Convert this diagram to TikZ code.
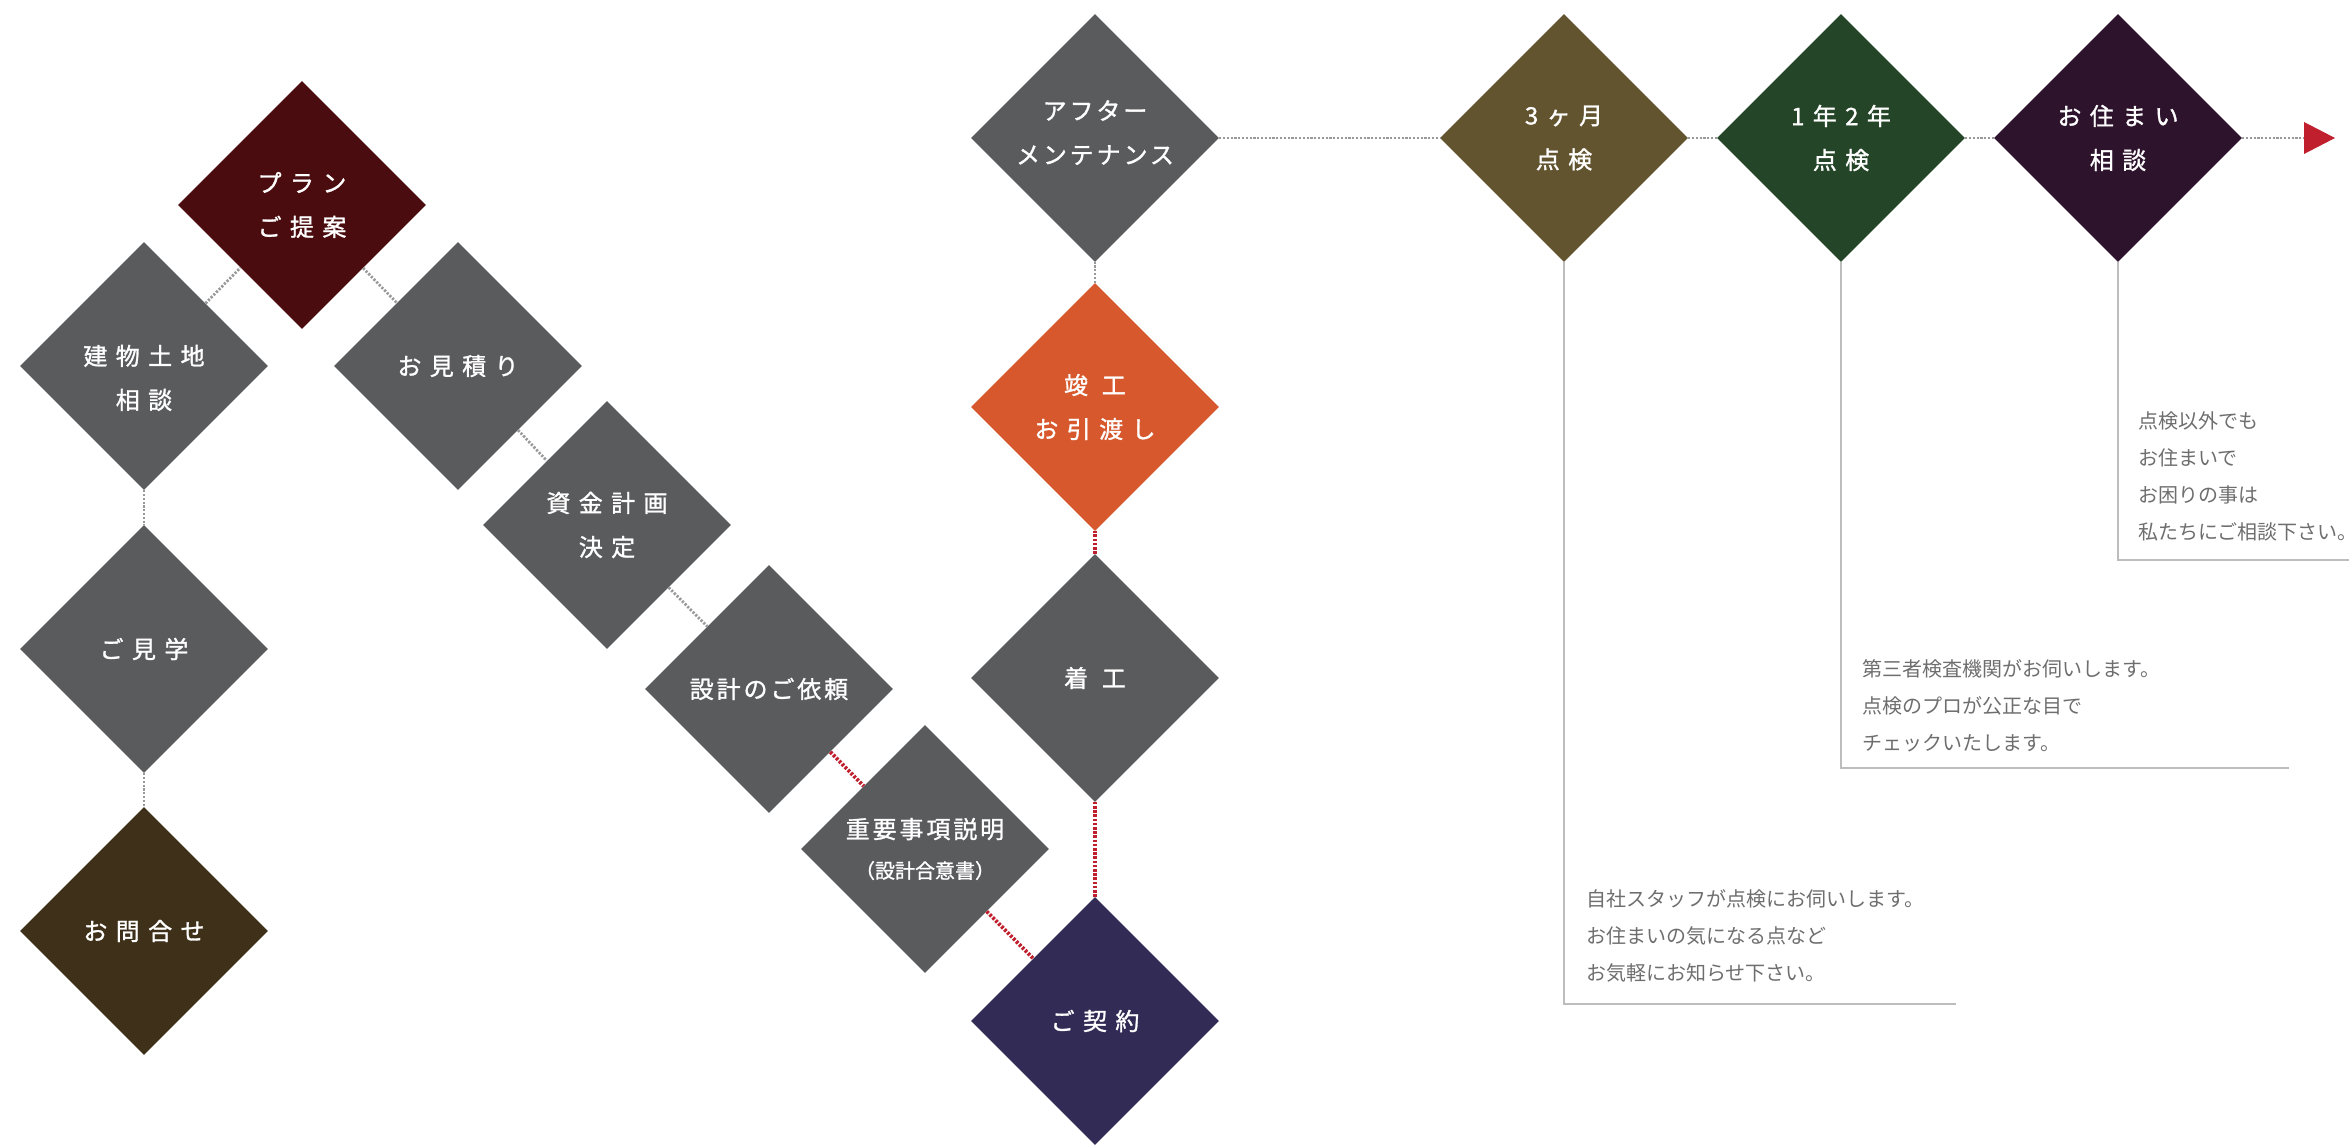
\documentclass[tikz,border=0pt]{standalone}
\usepackage{fontspec}
\usetikzlibrary{shapes.geometric}
\newfontfamily\lblfont{Noto Sans CJK JP}[LetterSpace=35, FakeBold=1.2]
\newfontfamily\lbltight{Noto Sans CJK JP}[LetterSpace=12, FakeBold=1.2]
\newfontfamily\lblsmall{Noto Sans CJK JP}[LetterSpace=0, FakeBold=1.0]
\newfontfamily\descfont{Noto Sans CJK JP}
\definecolor{gry}{HTML}{5A5B5D}
\definecolor{planc}{HTML}{4A0C0E}
\definecolor{toic}{HTML}{3E3019}
\definecolor{keic}{HTML}{322B55}
\definecolor{shunc}{HTML}{D6582C}
\definecolor{m3c}{HTML}{635430}
\definecolor{y12c}{HTML}{244527}
\definecolor{sumaic}{HTML}{2E132D}
\definecolor{redc}{HTML}{C0202E}
\definecolor{dotg}{HTML}{999999}
\definecolor{lineg}{HTML}{BDBDBD}
\definecolor{descc}{HTML}{6E6E6E}
\tikzset{
  dia/.style={diamond, aspect=1, minimum width=248pt, minimum height=248pt,
    inner sep=0pt, text=white, align=center, fill=gry,
    font={\lblfont\fontsize{24}{44}\selectfont}},
  tight/.style={font={\lbltight\fontsize{24}{44}\selectfont}},
  gdot/.style={draw=dotg, line width=2.8pt, dash pattern=on 2.2pt off 1.6pt},
  rdot/.style={draw=redc, line width=3.8pt, dash pattern=on 2.6pt off 1.6pt},
  frame/.style={draw=lineg, line width=1.6pt},
  desc/.style={anchor=north west, inner sep=0pt, align=left, text=descc,
    font={\descfont\fontsize{20}{37}\selectfont}}
}
\begin{document}
\begin{tikzpicture}[x=1pt,y=-1pt]
\useasboundingbox (0,0) rectangle (2349,1145);
\coordinate (Cplan) at (302,205);
\coordinate (Ctate) at (144,366);
\coordinate (Ckeng) at (144,649);
\coordinate (Ctoi) at (144,931);
\coordinate (Cmits) at (458,366);
\coordinate (Cshik) at (607,525);
\coordinate (Csek) at (769,689);
\coordinate (Cjuu) at (925,849);
\coordinate (Ckei) at (1095,1021);
\coordinate (Cchak) at (1095,678);
\coordinate (Cshun) at (1095,407);
\coordinate (Cafter) at (1095,138);
\coordinate (Cm3) at (1564,138);
\coordinate (Cy12) at (1841,138);
\coordinate (Csumai) at (2118,138);
\coordinate (arrbase) at (2304,138);

\node[dia] (tate) at (Ctate) {\rule{0pt}{44pt}建物土地\\相談};
\node[dia] (keng) at (Ckeng) {ご見学};
\node[dia, fill=toic] (toi) at (Ctoi) {お問合せ};
\node[dia, fill=planc] (plan) at (Cplan) {プラン\\ご提案};
\node[dia] (mits) at (Cmits) {お見積り};
\node[dia] (shik) at (Cshik) {資金計画\\決定};
\node[dia, tight] (sek) at (Csek) {設計のご依頼};
\node[dia, tight] (juu) at (Cjuu) {重要事項説明\\[-4pt]{\lblsmall\fontsize{20}{30}\selectfont （設計合意書）}};
\node[dia, fill=keic] (kei) at (Ckei) {ご契約};
\node[dia] (chak) at (Cchak) {着 工};
\node[dia, fill=shunc] (shun) at (Cshun) {竣 工\\お引渡し};
\node[dia, tight] (after) at (Cafter) {アフター\\メンテナンス\rule[-12pt]{0pt}{1pt}};
\node[dia, fill=m3c] (m3) at (Cm3) {3ヶ月\\点検};
\node[dia, fill=y12c] (y12) at (Cy12) {1年2年\\点検};
\node[dia, fill=sumaic] (sumai) at (Csumai) {お住まい\\相談};

\path[gdot] (tate) -- (plan);
\path[gdot] (plan) -- (mits);
\path[gdot] (mits) -- (shik);
\path[gdot] (shik) -- (sek);
\path[rdot] (sek) -- (juu);
\path[rdot] (juu) -- (kei);
\path[rdot] (kei) -- (chak);
\path[rdot] (chak) -- (shun);
\path[gdot] (shun) -- (after);
\path[gdot] (tate) -- (keng);
\path[gdot] (keng) -- (toi);
\path[gdot] (after) -- (m3);
\path[gdot] (m3) -- (y12);
\path[gdot] (y12) -- (sumai);
\path[gdot] (sumai) -- (arrbase);
\fill[redc] (2304,122) -- (2335,138) -- (2304,154) -- cycle;

\coordinate (f1c) at (1564,1004);
\coordinate (f1e) at (1956,1004);
\coordinate (f2c) at (1841,768);
\coordinate (f2e) at (2289,768);
\coordinate (f3c) at (2118,560);
\coordinate (f3e) at (2349,560);
\draw[frame] (m3.south) -- (f1c) -- (f1e);
\draw[frame] (y12.south) -- (f2c) -- (f2e);
\draw[frame] (sumai.south) -- (f3c) -- (f3e);

\node[desc] (d1) at (1586,889) {自社スタッフが点検にお伺いします。\\お住まいの気になる点など\\お気軽にお知らせ下さい。};
\node[desc] (d2) at (1862,659) {第三者検査機関がお伺いします。\\点検のプロが公正な目で\\チェックいたします。};
\node[desc] (d3) at (2138,411) {点検以外でも\\お住まいで\\お困りの事は\\私たちにご相談下さい。};
\end{tikzpicture}
\end{document}
